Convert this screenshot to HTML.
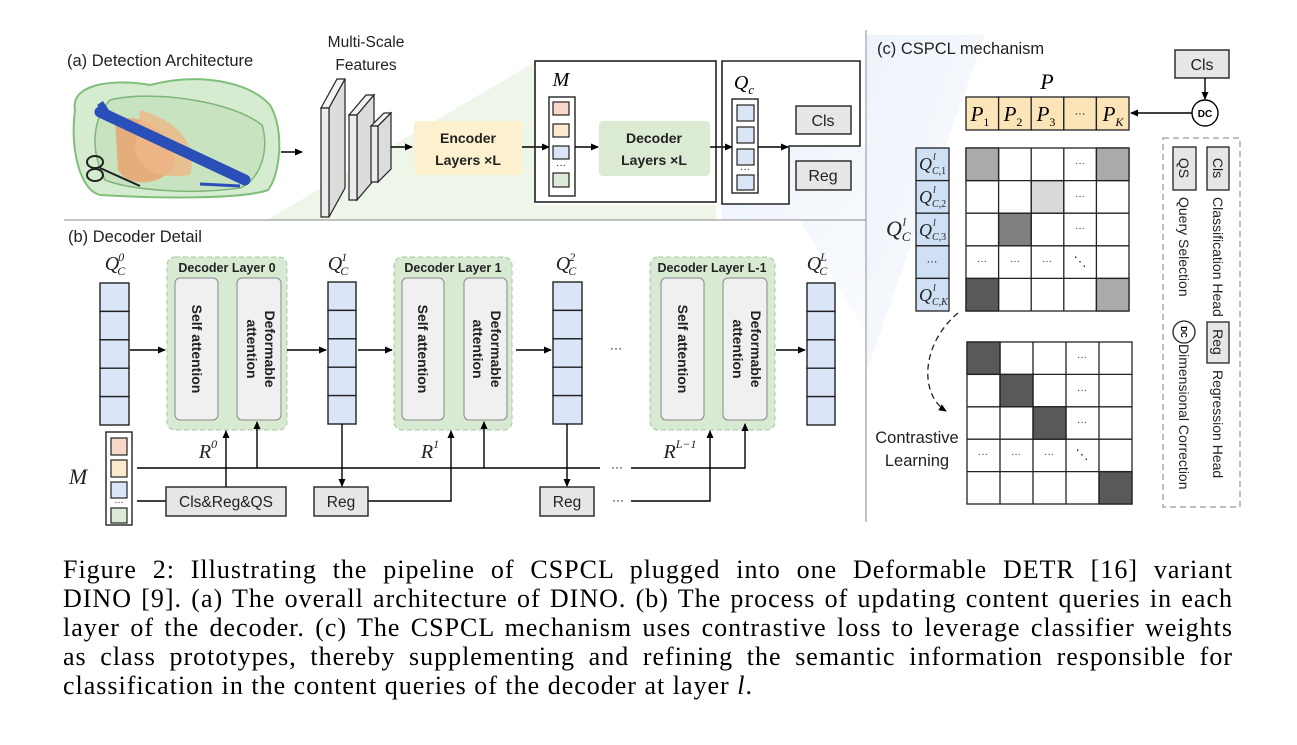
<!DOCTYPE html>
<html><head><meta charset="utf-8"><style>
html,body{margin:0;padding:0;background:#fff;}
body{width:1297px;height:745px;position:relative;overflow:hidden;}
svg{position:absolute;left:0;top:0;}
.cap{position:absolute;left:63px;width:1170px;font-family:"Liberation Serif",serif;font-size:26px;line-height:29px;color:#000;letter-spacing:1px;}
.cap div{text-align:justify;text-align-last:justify;white-space:nowrap;height:29px}
.cap div.last{text-align-last:left;}
</style></head><body>
<svg width="1297" height="745" viewBox="0 0 1297 745" xmlns="http://www.w3.org/2000/svg" font-family="Liberation Sans, sans-serif">
<defs>
<marker id="ar" markerWidth="8" markerHeight="8" refX="7" refY="4" orient="auto" markerUnits="userSpaceOnUse"><path d="M0,0.5 L8,4 L0,7.5 Z" fill="#000"/></marker>
<linearGradient id="bg1" x1="0" y1="0" x2="1" y2="1"><stop offset="0" stop-color="#eef3fb"/><stop offset="1" stop-color="#fafcfe"/></linearGradient>
</defs>
<polygon points="535,62 267,220 716,220 716,205 535,205" fill="#eef6ea"/>
<polygon points="722,205 789,205 789,146 860,146 866,150 866,335 800,220 722,220" fill="url(#bg1)"/>
<polygon points="867,35 985,35 867,370" fill="url(#bg1)"/>

<text x="67" y="66" font-size="16.5" fill="#222">(a) Detection Architecture</text>
<g>
<path d="M75,110 C70,85 110,78 150,85 C200,72 250,82 270,105 C285,130 280,175 268,190 C240,200 150,198 100,195 C80,190 70,150 75,110 Z" fill="#d6ecd0" stroke="#7fbf7a" stroke-width="2"/>
<path d="M110,100 C150,90 230,100 262,125 C270,150 260,180 240,188 C190,195 130,190 105,180 C90,150 92,120 110,100 Z" fill="#c4e2bc" stroke="#6aa866" stroke-width="1.5" opacity="0.8"/>
<path d="M115,120 C140,112 170,130 175,160 C170,185 130,190 118,170 Z" fill="#e8a570" opacity="0.85"/>
<path d="M140,110 C170,118 200,140 190,175 C160,180 140,170 135,150 Z" fill="#efb687" opacity="0.8"/>
<line x1="100" y1="112" x2="245" y2="180" stroke="#2a4fb8" stroke-width="11" stroke-linecap="round"/>
<line x1="100" y1="103" x2="110" y2="118" stroke="#2a4fb8" stroke-width="7"/>
<ellipse cx="95" cy="162" rx="8" ry="6" fill="none" stroke="#222" stroke-width="2"/>
<ellipse cx="95" cy="175" rx="8" ry="6" fill="none" stroke="#222" stroke-width="2"/>
<line x1="100" y1="168" x2="140" y2="186" stroke="#222" stroke-width="2"/>
<line x1="200" y1="184" x2="240" y2="186" stroke="#2a4fb8" stroke-width="3"/>
</g>
<line x1="281" y1="152" x2="302" y2="152" stroke="#000" stroke-width="1.6" marker-end="url(#ar)"/>
<text x="366" y="47" font-size="15.5" text-anchor="middle" fill="#222">Multi-Scale</text>
<text x="366" y="70" font-size="15.5" text-anchor="middle" fill="#222">Features</text>
<polygon points="321,108 337,79 345,79 329,108" fill="#f2f2f2" stroke="#222" stroke-width="1.2"/>
<polygon points="329,108 345,79 345,188 329,217" fill="#dcdcdc" stroke="#222" stroke-width="1.2"/>
<polygon points="321,108 329,108 329,217 321,217" fill="#ececec" stroke="#222" stroke-width="1.2"/>
<polygon points="349,115 366,95 374,95 357,115" fill="#f2f2f2" stroke="#222" stroke-width="1.2"/>
<polygon points="357,115 374,95 374,180 357,200" fill="#dcdcdc" stroke="#222" stroke-width="1.2"/>
<polygon points="349,115 357,115 357,200 349,200" fill="#ececec" stroke="#222" stroke-width="1.2"/>
<polygon points="371,126 384,113 391,113 378,126" fill="#f2f2f2" stroke="#222" stroke-width="1.2"/>
<polygon points="378,126 391,113 391,169 378,182" fill="#dcdcdc" stroke="#222" stroke-width="1.2"/>
<polygon points="371,126 378,126 378,182 371,182" fill="#ececec" stroke="#222" stroke-width="1.2"/>
<line x1="391" y1="147" x2="412" y2="147" stroke="#000" stroke-width="1.6" marker-end="url(#ar)"/>
<rect x="414" y="121" width="108" height="54" rx="4" fill="#fdf0cf"/>
<text x="468" y="143" font-size="14" font-weight="bold" text-anchor="middle" fill="#222">Encoder</text>
<text x="468" y="165" font-size="14" font-weight="bold" text-anchor="middle" fill="#222">Layers ×L</text>
<line x1="522" y1="147" x2="549" y2="147" stroke="#000" stroke-width="1.6" marker-end="url(#ar)"/>
<rect x="535" y="61" width="181" height="141" fill="none" stroke="#222" stroke-width="1.6"/>
<text x="561" y="86" font-size="20" font-style="italic" font-family="Liberation Serif, serif" text-anchor="middle">M</text>
<rect x="549" y="97" width="26" height="99" fill="#fff" stroke="#222" stroke-width="1.4"/>
<rect x="553" y="102" width="16" height="13" fill="#f8d8c8" stroke="#222" stroke-width="1.2"/>
<rect x="553" y="124" width="16" height="13" fill="#fdebd0" stroke="#222" stroke-width="1.2"/>
<rect x="553" y="146" width="16" height="13" fill="#dbe5f8" stroke="#222" stroke-width="1.2"/>
<text x="561" y="168" font-size="10" text-anchor="middle">···</text>
<rect x="553" y="173" width="16" height="14" fill="#dcebd6" stroke="#222" stroke-width="1.2"/>
<line x1="575" y1="147" x2="598" y2="147" stroke="#000" stroke-width="1.6" marker-end="url(#ar)"/>
<rect x="599" y="121" width="111" height="55" rx="4" fill="#dbead3"/>
<text x="654" y="143" font-size="14" font-weight="bold" text-anchor="middle" fill="#222">Decoder</text>
<text x="654" y="165" font-size="14" font-weight="bold" text-anchor="middle" fill="#222">Layers ×L</text>
<line x1="710" y1="147" x2="732" y2="147" stroke="#000" stroke-width="1.6" marker-end="url(#ar)"/>
<path d="M722,61 H860 V146 H789 V204 H722 Z" fill="none" stroke="#222" stroke-width="1.6"/>
<text x="744" y="89" font-size="20" font-style="italic" font-family="Liberation Serif, serif" text-anchor="middle">Q<tspan font-size="13" dy="5">c</tspan></text>
<rect x="732" y="99" width="26" height="94" fill="#fff" stroke="#222" stroke-width="1.4"/>
<rect x="737" y="105" width="17" height="16" fill="#dbe5f8" stroke="#222" stroke-width="1.2"/>
<rect x="737" y="127" width="17" height="16" fill="#dbe5f8" stroke="#222" stroke-width="1.2"/>
<rect x="737" y="149" width="17" height="16" fill="#dbe5f8" stroke="#222" stroke-width="1.2"/>
<text x="745" y="172" font-size="10" text-anchor="middle">···</text>
<rect x="737" y="175" width="17" height="15" fill="#dbe5f8" stroke="#222" stroke-width="1.2"/>
<line x1="758" y1="147" x2="788" y2="147" stroke="#000" stroke-width="1.6" marker-end="url(#ar)"/>
<rect x="796" y="106" width="55" height="28" fill="#e6e6e6" stroke="#222" stroke-width="1.4"/>
<text x="823" y="126" font-size="16" text-anchor="middle" fill="#222">Cls</text>
<rect x="796" y="161" width="55" height="29" fill="#e6e6e6" stroke="#222" stroke-width="1.4"/>
<text x="823" y="181" font-size="16" text-anchor="middle" fill="#222">Reg</text>
<line x1="64" y1="220" x2="866" y2="220" stroke="#888" stroke-width="1"/>
<line x1="866" y1="30" x2="866" y2="522" stroke="#888" stroke-width="1"/>

<text x="68" y="242" font-size="16.5" fill="#222">(b) Decoder Detail</text>
<g font-family="Liberation Serif, serif" font-style="italic" font-size="20" fill="#222" text-anchor="middle">
<text x="115" y="270">Q<tspan font-size="12" dy="5" dx="-2">C</tspan><tspan font-size="12" dx="-7" dy="-14">0</tspan></text>
<text x="338" y="270">Q<tspan font-size="12" dy="5" dx="-2">C</tspan><tspan font-size="12" dx="-7" dy="-14">1</tspan></text>
<text x="566" y="270">Q<tspan font-size="12" dy="5" dx="-2">C</tspan><tspan font-size="12" dx="-7" dy="-14">2</tspan></text>
<text x="817" y="270">Q<tspan font-size="12" dy="5" dx="-2">C</tspan><tspan font-size="12" dx="-7" dy="-14">L</tspan></text>
<text x="78" y="484" font-size="22">M</text>
<text x="208" y="458">R<tspan font-size="12" dy="-10">0</tspan></text>
<text x="430" y="458">R<tspan font-size="12" dy="-10">1</tspan></text>
<text x="680" y="458">R<tspan font-size="12" dy="-10">L−1</tspan></text>
</g>
<g stroke="#222" stroke-width="1.4" fill="#dbe5f8">
<rect x="100" y="283" width="29" height="28.4"/><rect x="100" y="311.4" width="29" height="28.4"/><rect x="100" y="339.8" width="29" height="28.4"/><rect x="100" y="368.2" width="29" height="28.4"/><rect x="100" y="396.6" width="29" height="28.4"/>
<rect x="328" y="282" width="28" height="28.4"/><rect x="328" y="310.4" width="28" height="28.4"/><rect x="328" y="338.8" width="28" height="28.4"/><rect x="328" y="367.2" width="28" height="28.4"/><rect x="328" y="395.6" width="28" height="28.4"/>
<rect x="553" y="282" width="29" height="28.4"/><rect x="553" y="310.4" width="29" height="28.4"/><rect x="553" y="338.8" width="29" height="28.4"/><rect x="553" y="367.2" width="29" height="28.4"/><rect x="553" y="395.6" width="29" height="28.4"/>
<rect x="807" y="283" width="28" height="28.4"/><rect x="807" y="311.4" width="28" height="28.4"/><rect x="807" y="339.8" width="28" height="28.4"/><rect x="807" y="368.2" width="28" height="28.4"/><rect x="807" y="396.6" width="28" height="28.4"/>
</g>
<g>
<rect x="167" y="257" width="120" height="173" rx="8" fill="#d9ead3" stroke="#a8c8a0" stroke-dasharray="5,3"/>
<text x="227" y="272" font-size="12.5" font-weight="bold" text-anchor="middle" fill="#222">Decoder Layer 0</text>
<rect x="175" y="278" width="43" height="142" rx="5" fill="#f0f0f0" stroke="#888"/>
<rect x="237" y="278" width="44" height="142" rx="5" fill="#f0f0f0" stroke="#888"/>
<rect x="394" y="257" width="118" height="173" rx="8" fill="#d9ead3" stroke="#a8c8a0" stroke-dasharray="5,3"/>
<text x="453" y="272" font-size="12.5" font-weight="bold" text-anchor="middle" fill="#222">Decoder Layer 1</text>
<rect x="402" y="278" width="42" height="142" rx="5" fill="#f0f0f0" stroke="#888"/>
<rect x="464" y="278" width="43" height="142" rx="5" fill="#f0f0f0" stroke="#888"/>
<rect x="650" y="257" width="125" height="173" rx="8" fill="#d9ead3" stroke="#a8c8a0" stroke-dasharray="5,3"/>
<text x="712" y="272" font-size="12.5" font-weight="bold" text-anchor="middle" fill="#222">Decoder Layer L-1</text>
<rect x="661" y="278" width="43" height="142" rx="5" fill="#f0f0f0" stroke="#888"/>
<rect x="723" y="278" width="44" height="142" rx="5" fill="#f0f0f0" stroke="#888"/>
</g>
<g font-size="14" font-weight="bold" fill="#222" text-anchor="middle">
<text transform="translate(192,349) rotate(90)">Self attention</text>
<text transform="translate(265,349) rotate(90)">Deformable</text>
<text transform="translate(247,349) rotate(90)">attention</text>
<text transform="translate(418,349) rotate(90)">Self attention</text>
<text transform="translate(491,349) rotate(90)">Deformable</text>
<text transform="translate(473,349) rotate(90)">attention</text>
<text transform="translate(678,349) rotate(90)">Self attention</text>
<text transform="translate(751,349) rotate(90)">Deformable</text>
<text transform="translate(733,349) rotate(90)">attention</text>
</g>
<g stroke="#000" stroke-width="1.6">
<line x1="130" y1="350" x2="165" y2="350" marker-end="url(#ar)"/>
<line x1="287" y1="350" x2="326" y2="350" marker-end="url(#ar)"/>
<line x1="358" y1="350" x2="392" y2="350" marker-end="url(#ar)"/>
<line x1="516" y1="350" x2="551" y2="350" marker-end="url(#ar)"/>
<line x1="776" y1="350" x2="805" y2="350" marker-end="url(#ar)"/>
</g>
<text x="616" y="352" font-size="12" text-anchor="middle">···</text>
<rect x="106" y="432" width="26" height="93" fill="#fff" stroke="#222" stroke-width="1.4"/>
<rect x="111" y="438" width="16" height="17" fill="#f8d8c8" stroke="#222" stroke-width="1.2"/>
<rect x="111" y="460" width="16" height="17" fill="#fdebd0" stroke="#222" stroke-width="1.2"/>
<rect x="111" y="482" width="16" height="16" fill="#dbe5f8" stroke="#222" stroke-width="1.2"/>
<text x="119" y="505" font-size="9" text-anchor="middle">···</text>
<rect x="111" y="508" width="16" height="15" fill="#dcebd6" stroke="#222" stroke-width="1.2"/>
<g stroke="#000" stroke-width="1.4" fill="none">
<line x1="137" y1="468" x2="600" y2="468"/>
<polyline points="631,468 745,468 745,424" marker-end="url(#ar)"/>
<line x1="257" y1="468" x2="257" y2="422" marker-end="url(#ar)"/>
<line x1="484" y1="468" x2="484" y2="422" marker-end="url(#ar)"/>
<line x1="137" y1="501" x2="166" y2="501"/>
<line x1="226" y1="487" x2="226" y2="431" marker-end="url(#ar)"/>
<line x1="342" y1="424" x2="342" y2="486" marker-end="url(#ar)"/>
<polyline points="368,501 451,501 451,431" marker-end="url(#ar)"/>
<line x1="567" y1="424" x2="567" y2="486" marker-end="url(#ar)"/>
<polyline points="631,501 710,501 710,431" marker-end="url(#ar)"/>
</g>
<text x="617" y="471" font-size="12" text-anchor="middle">···</text>
<text x="618" y="504" font-size="12" text-anchor="middle">···</text>
<rect x="166" y="487" width="120" height="29" fill="#e6e6e6" stroke="#222" stroke-width="1.4"/>
<text x="226" y="507" font-size="15.5" text-anchor="middle" fill="#222">Cls&amp;Reg&amp;QS</text>
<rect x="314" y="487" width="54" height="29" fill="#e6e6e6" stroke="#222" stroke-width="1.4"/>
<text x="341" y="507" font-size="15.5" text-anchor="middle" fill="#222">Reg</text>
<rect x="540" y="487" width="54" height="29" fill="#e6e6e6" stroke="#222" stroke-width="1.4"/>
<text x="567" y="507" font-size="15.5" text-anchor="middle" fill="#222">Reg</text>

<text x="877" y="54" font-size="16.5" fill="#222">(c) CSPCL mechanism</text>
<rect x="1175" y="50" width="54" height="28" fill="#e6e6e6" stroke="#222" stroke-width="1.4"/>
<text x="1202" y="70" font-size="16" text-anchor="middle" fill="#222">Cls</text>
<line x1="1205" y1="78" x2="1205" y2="99" stroke="#000" stroke-width="1.4" marker-end="url(#ar)"/>
<circle cx="1205" cy="113" r="13" fill="#fff" stroke="#000" stroke-width="1.4"/>
<text x="1205" y="117" font-size="10" font-weight="bold" text-anchor="middle">DC</text>
<line x1="1192" y1="113" x2="1131" y2="113" stroke="#000" stroke-width="1.4" marker-end="url(#ar)"/>
<text x="1047" y="89" font-size="22" font-style="italic" font-family="Liberation Serif, serif" text-anchor="middle">P</text>
<g stroke="#222" stroke-width="1.3" fill="#fbe5b8">
<rect x="966" y="97" width="32.6" height="33"/><rect x="998.6" y="97" width="32.6" height="33"/><rect x="1031.2" y="97" width="32.6" height="33"/><rect x="1063.8" y="97" width="32.6" height="33"/><rect x="1096.4" y="97" width="32.6" height="33"/>
</g>
<g font-family="Liberation Serif, serif" font-style="italic" font-size="21" text-anchor="middle">
<text x="980" y="121">P<tspan font-size="12" dy="5" font-style="normal">1</tspan></text>
<text x="1013" y="121">P<tspan font-size="12" dy="5" font-style="normal">2</tspan></text>
<text x="1046" y="121">P<tspan font-size="12" dy="5" font-style="normal">3</tspan></text>
<text x="1113" y="121">P<tspan font-size="12" dy="5">K</tspan></text>
</g>
<text x="1080" y="117" font-size="11" text-anchor="middle">···</text>
<g stroke="#222" stroke-width="1.3" fill="#cfe0f5">
<rect x="916" y="148" width="33" height="32.6"/><rect x="916" y="180.6" width="33" height="32.6"/><rect x="916" y="213.2" width="33" height="32.6"/><rect x="916" y="245.8" width="33" height="32.6"/><rect x="916" y="278.4" width="33" height="32.6"/>
</g>
<g font-family="Liberation Serif, serif" font-style="italic" font-size="18" fill="#222">
<text x="919" y="170">Q<tspan font-size="10" dy="4">C</tspan><tspan font-size="10" dy="0" font-style="normal">,1</tspan></text>
<text x="919" y="203">Q<tspan font-size="10" dy="4">C</tspan><tspan font-size="10" font-style="normal">,2</tspan></text>
<text x="919" y="236">Q<tspan font-size="10" dy="4">C</tspan><tspan font-size="10" font-style="normal">,3</tspan></text>
<text x="919" y="301">Q<tspan font-size="10" dy="4">C</tspan><tspan font-size="10">,K</tspan></text>
<text x="886" y="236" font-size="22">Q<tspan font-size="13" dy="5">C</tspan><tspan font-size="12" dx="-8" dy="-15">l</tspan></text>
</g>
<g font-family="Liberation Serif, serif" font-style="italic" font-size="10" fill="#222">
<text x="933" y="160">l</text><text x="933" y="193">l</text><text x="933" y="226">l</text><text x="933" y="291">l</text>
</g>
<text x="932" y="265" font-size="11" text-anchor="middle">···</text>
<g stroke="#222" stroke-width="1.3">
<rect x="966" y="148" width="163" height="163" fill="#fff"/>
<rect x="966" y="148" width="32.6" height="32.6" fill="#aaaaaa"/>
<rect x="1096.4" y="148" width="32.6" height="32.6" fill="#aaaaaa"/>
<rect x="1031.2" y="180.6" width="32.6" height="32.6" fill="#d9d9d9"/>
<rect x="998.6" y="213.2" width="32.6" height="32.6" fill="#7f7f7f"/>
<rect x="966" y="278.4" width="32.6" height="32.6" fill="#595959"/>
<rect x="1096.4" y="278.4" width="32.6" height="32.6" fill="#aaaaaa"/>
<path d="M998.6,148V311M1031.2,148V311M1063.8,148V311M1096.4,148V311M966,180.6H1129M966,213.2H1129M966,245.8H1129M966,278.4H1129" fill="none"/>
</g>
<g font-size="10" text-anchor="middle" fill="#222">
<text x="1080" y="166">···</text><text x="1080" y="199">···</text><text x="1080" y="231">···</text>
<text x="982" y="264">···</text><text x="1015" y="264">···</text><text x="1047" y="264">···</text><text x="1080" y="266" font-size="13">⋱</text>
</g>
<g stroke="#222" stroke-width="1.3">
<rect x="967" y="342" width="165" height="162" fill="#fff"/>
<rect x="967" y="342" width="33" height="32.4" fill="#595959"/>
<rect x="1000" y="374.4" width="33" height="32.4" fill="#595959"/>
<rect x="1033" y="406.8" width="33" height="32.4" fill="#595959"/>
<rect x="1099" y="471.6" width="33" height="32.4" fill="#595959"/>
<path d="M1000,342V504M1033,342V504M1066,342V504M1099,342V504M967,374.4H1132M967,406.8H1132M967,439.2H1132M967,471.6H1132" fill="none"/>
</g>
<g font-size="10" text-anchor="middle" fill="#222">
<text x="1082" y="360">···</text><text x="1082" y="393">···</text><text x="1082" y="425">···</text>
<text x="983" y="457">···</text><text x="1016" y="457">···</text><text x="1049" y="457">···</text><text x="1082" y="459" font-size="13">⋱</text>
</g>
<path d="M958,313 C920,345 920,395 946,411" fill="none" stroke="#222" stroke-width="1.3" stroke-dasharray="6,4" marker-end="url(#ar)"/>
<text x="917" y="443" font-size="16.5" text-anchor="middle" fill="#222">Contrastive</text>
<text x="917" y="466" font-size="16.5" text-anchor="middle" fill="#222">Learning</text>
<rect x="1163" y="138" width="77" height="369" fill="none" stroke="#999" stroke-width="1.3" stroke-dasharray="6,4"/>
<rect x="1173" y="147" width="23" height="43" fill="#e6e6e6" stroke="#222" stroke-width="1.3"/>
<rect x="1207" y="147" width="22" height="43" fill="#e6e6e6" stroke="#222" stroke-width="1.3"/>
<rect x="1207" y="322" width="22" height="41" fill="#e6e6e6" stroke="#222" stroke-width="1.3"/>
<circle cx="1184" cy="332" r="11" fill="#fff" stroke="#222" stroke-width="1.3"/>
<g font-size="14" fill="#222">
<text transform="translate(1179,168) rotate(90)" text-anchor="middle">QS</text>
<text transform="translate(1213,168) rotate(90)" text-anchor="middle">Cls</text>
<text transform="translate(1213,342) rotate(90)" text-anchor="middle">Reg</text>
<text transform="translate(1179,197) rotate(90)">Query Selection</text>
<text transform="translate(1213,197) rotate(90)">Classification Head</text>
<text transform="translate(1179,344) rotate(90)">Dimensional Correction</text>
<text transform="translate(1213,370) rotate(90)">Regression Head</text>
</g>
<text transform="translate(1181,332) rotate(90)" font-size="8" font-weight="bold" text-anchor="middle">DC</text>
</svg>
<div class="cap" style="top:555px">
<div>Figure 2: Illustrating the pipeline of CSPCL plugged into one Deformable DETR [16] variant</div>
<div>DINO [9]. (a) The overall architecture of DINO. (b) The process of updating content queries in each</div>
<div>layer of the decoder. (c) The CSPCL mechanism uses contrastive loss to leverage classifier weights</div>
<div>as class prototypes, thereby supplementing and refining the semantic information responsible for</div>
<div class="last">classification in the content queries of the decoder at layer <i>l</i>.</div>
</div>
</body></html>
